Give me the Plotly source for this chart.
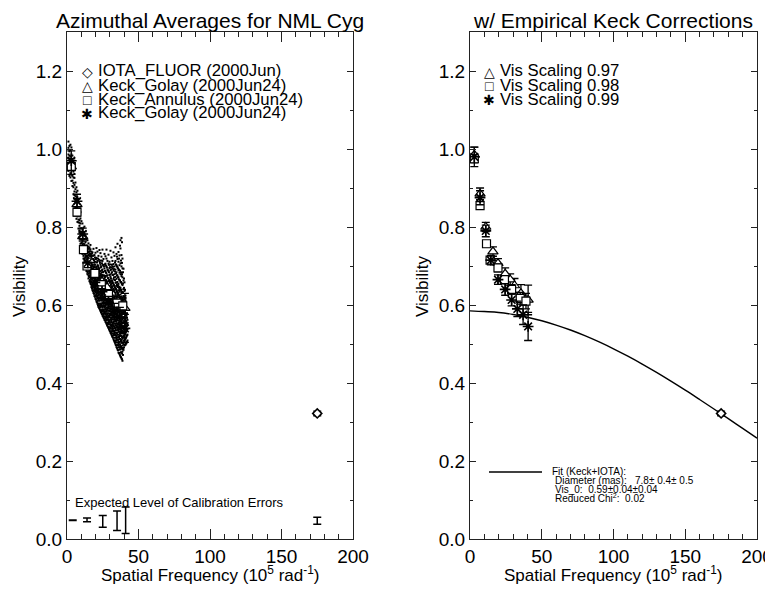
import plotly.graph_objects as go

W, H = 773, 590

# ---------------- data ----------------
# IOTA_FLUOR point
iota_x = [175.0]
iota_v = [0.322]
iota_err = [0.006]

# Keck_Golay (triangles) -- raw (left) and scaled 0.97 (right)
tri_x = [3, 7, 11, 16, 19.5, 24.5, 28, 31, 35.5, 40.5]
tri_v_raw = [0.955, 0.858, 0.776, 0.715, 0.686, 0.660, 0.645, 0.631, 0.611, 0.592]
tri_v_cor = [0.985, 0.885, 0.800, 0.737, 0.707, 0.680, 0.665, 0.650, 0.630, 0.613]
tri_err = [0.02, 0.015, 0.012, 0.012, 0.012, 0.015, 0.015, 0.018, 0.022, 0.038]

# Keck_Annulus (squares) -- raw and scaled 0.98
sq_x = [3, 7, 11.5, 14, 19.5, 24, 29, 35, 39]
sq_v_raw = [0.955, 0.838, 0.742, 0.700, 0.681, 0.652, 0.627, 0.605, 0.598]
sq_v_cor = [0.975, 0.855, 0.757, 0.715, 0.695, 0.665, 0.640, 0.617, 0.610]
sq_err = [0.01, 0.01, 0.008, 0.008, 0.01, 0.01, 0.012, 0.015, 0.02]

# Keck_Golay second set (asterisks) -- raw and scaled 0.99
ast_x = [3, 7, 11, 14.5, 19.5, 24.5, 29, 33, 37, 40.5]
ast_v_raw = [0.970, 0.866, 0.782, 0.708, 0.658, 0.634, 0.607, 0.584, 0.569, 0.540]
ast_v_cor = [0.980, 0.875, 0.790, 0.715, 0.665, 0.640, 0.613, 0.590, 0.575, 0.545]
ast_err = [0.025, 0.018, 0.015, 0.012, 0.012, 0.015, 0.015, 0.02, 0.025, 0.036]

# Expected calibration error bars
cal_x = [4, 14, 25, 35, 41, 175]
cal_v = [0.048, 0.049, 0.045, 0.047, 0.048, 0.047]
cal_err = [0.0005, 0.005, 0.015, 0.025, 0.034, 0.009]

# Fit curve (Keck+IOTA)
fit_x = [0, 10, 20, 30, 40, 50, 60, 70, 80, 90, 100, 110, 120, 130, 140, 150,
         160, 170, 180, 190, 200]
fit_v = [0.585, 0.5832, 0.5809, 0.5758, 0.5687, 0.5596, 0.5486, 0.5359, 0.5214,
         0.5053, 0.4877, 0.4687, 0.4485, 0.4271, 0.4047, 0.3816, 0.3577, 0.3333,
         0.3086, 0.2836, 0.2586]

# Raw Keck visibilities (dot cloud), one column of values per frequency
cloud_x = [1.0, 1.7, 2.4, 3.1, 3.8, 4.5, 5.2, 5.9, 6.6, 7.3, 8.0, 8.7, 9.4, 10.1,
           10.8, 11.5, 12.2, 12.9, 13.6, 14.3, 15.0, 15.7, 16.4, 17.1, 17.8, 18.5,
           19.2, 19.9, 20.6, 21.3, 22.0, 22.7, 23.4, 24.1, 24.8, 25.5, 26.2, 26.9,
           27.6, 28.3, 29.0, 29.7, 30.4, 31.1, 31.8, 32.5, 33.2, 33.9, 34.6, 35.3,
           36.0, 36.7, 37.4, 38.1, 38.8, 39.5, 40.2, 40.9, 41.6, 42.3]
cloud_v = [
    [0.944, 0.962, 0.977, 0.986, 1.003, 1.019],
    [0.931, 0.955, 0.961, 0.972, 0.994, 1.008, 0.983],
    [0.927, 0.949, 0.938, 0.966, 0.981, 0.958, 0.997, 1.011],
    [0.918, 0.934, 0.957, 0.945, 0.969, 0.986, 0.975, 1.004],
    [0.905, 0.931, 0.919, 0.948, 0.962, 0.954, 0.983],
    [0.884, 0.902, 0.927, 0.913, 0.942, 0.958, 0.969],
    [0.857, 0.873, 0.891, 0.882, 0.908, 0.926, 0.936],
    [0.829, 0.851, 0.842, 0.866, 0.879, 0.871, 0.897, 0.914],
    [0.821, 0.836, 0.849, 0.858, 0.844, 0.873, 0.889, 0.902],
    [0.813, 0.827, 0.852, 0.839, 0.864, 0.876, 0.858, 0.893],
    [0.796, 0.812, 0.828, 0.819, 0.841, 0.857, 0.846, 0.872],
    [0.774, 0.791, 0.803, 0.786, 0.818, 0.829, 0.811, 0.847],
    [0.757, 0.769, 0.783, 0.796, 0.776, 0.809, 0.822, 0.838],
    [0.742, 0.759, 0.751, 0.768, 0.784, 0.776, 0.797, 0.815],
    [0.731, 0.744, 0.756, 0.739, 0.767, 0.781, 0.762, 0.793, 0.809],
    [0.719, 0.733, 0.726, 0.745, 0.757, 0.771, 0.749, 0.783, 0.798],
    [0.708, 0.719, 0.731, 0.714, 0.743, 0.736, 0.756, 0.769, 0.782, 0.801],
    [0.697, 0.711, 0.704, 0.723, 0.734, 0.728, 0.749, 0.761, 0.778],
    [0.687, 0.699, 0.711, 0.694, 0.724, 0.717, 0.738, 0.753, 0.744, 0.769],
    [0.679, 0.683, 0.697, 0.701, 0.709, 0.724, 0.727, 0.741, 0.752, 0.766],
    [0.668, 0.676, 0.692, 0.694, 0.712, 0.718, 0.721, 0.737, 0.758],
    [0.661, 0.671, 0.675, 0.688, 0.703, 0.706, 0.719, 0.733, 0.748],
    [0.655, 0.659, 0.677, 0.684, 0.689, 0.708, 0.714, 0.729, 0.743, 0.754],
    [0.646, 0.661, 0.665, 0.682, 0.696, 0.699, 0.711, 0.724, 0.737],
    [0.638, 0.642, 0.657, 0.671, 0.674, 0.688, 0.703, 0.717, 0.735],
    [0.631, 0.645, 0.651, 0.659, 0.672, 0.686, 0.691, 0.699, 0.718, 0.744],
    [0.623, 0.629, 0.644, 0.658, 0.661, 0.677, 0.683, 0.704, 0.709, 0.728],
    [0.616, 0.633, 0.637, 0.645, 0.663, 0.669, 0.687, 0.693, 0.711, 0.734],
    [0.609, 0.614, 0.628, 0.641, 0.655, 0.659, 0.675, 0.689, 0.698, 0.721, 0.746],
    [0.603, 0.618, 0.623, 0.636, 0.649, 0.667, 0.671, 0.683, 0.702, 0.713, 0.737],
    [0.595, 0.601, 0.615, 0.631, 0.638, 0.642, 0.659, 0.678, 0.681, 0.697, 0.726],
    [0.591, 0.598, 0.611, 0.619, 0.634, 0.651, 0.656, 0.664, 0.686, 0.694, 0.712, 0.741],
    [0.585, 0.594, 0.602, 0.622, 0.625, 0.643, 0.647, 0.666, 0.675, 0.679, 0.703, 0.733],
    [0.579, 0.583, 0.601, 0.613, 0.618, 0.637, 0.644, 0.655, 0.661, 0.684, 0.699, 0.724],
    [0.573, 0.589, 0.594, 0.605, 0.615, 0.627, 0.639, 0.652, 0.657, 0.677, 0.691, 0.713, 0.742],
    [0.568, 0.575, 0.586, 0.603, 0.608, 0.621, 0.629, 0.648, 0.651, 0.664, 0.685, 0.702, 0.718],
    [0.562, 0.579, 0.582, 0.594, 0.611, 0.617, 0.624, 0.643, 0.649, 0.668, 0.673, 0.694, 0.731],
    [0.557, 0.566, 0.577, 0.591, 0.599, 0.606, 0.626, 0.632, 0.641, 0.659, 0.672, 0.687, 0.706, 0.725],
    [0.552, 0.561, 0.574, 0.583, 0.601, 0.608, 0.615, 0.633, 0.638, 0.656, 0.662, 0.681, 0.699, 0.719, 0.742],
    [0.546, 0.552, 0.568, 0.576, 0.589, 0.603, 0.611, 0.619, 0.637, 0.646, 0.654, 0.676, 0.691, 0.713],
    [0.541, 0.557, 0.562, 0.573, 0.592, 0.597, 0.605, 0.621, 0.633, 0.639, 0.661, 0.668, 0.687, 0.706, 0.729],
    [0.535, 0.543, 0.556, 0.571, 0.578, 0.586, 0.603, 0.611, 0.628, 0.636, 0.649, 0.664, 0.677, 0.695, 0.711],
    [0.529, 0.547, 0.551, 0.562, 0.579, 0.588, 0.596, 0.608, 0.624, 0.629, 0.643, 0.661, 0.672, 0.689, 0.704, 0.739],
    [0.524, 0.531, 0.544, 0.559, 0.567, 0.583, 0.589, 0.601, 0.616, 0.627, 0.634, 0.656, 0.663, 0.681, 0.697, 0.722],
    [0.518, 0.536, 0.541, 0.549, 0.569, 0.574, 0.592, 0.597, 0.611, 0.618, 0.638, 0.645, 0.659, 0.677, 0.693, 0.713],
    [0.512, 0.522, 0.533, 0.548, 0.556, 0.571, 0.579, 0.588, 0.606, 0.613, 0.627, 0.641, 0.652, 0.667, 0.688, 0.705, 0.735],
    [0.506, 0.527, 0.531, 0.541, 0.558, 0.564, 0.582, 0.587, 0.598, 0.617, 0.622, 0.638, 0.649, 0.664, 0.679, 0.699, 0.726],
    [0.499, 0.508, 0.523, 0.538, 0.547, 0.559, 0.569, 0.577, 0.594, 0.603, 0.611, 0.631, 0.642, 0.657, 0.672, 0.691, 0.713, 0.748],
    [0.492, 0.513, 0.519, 0.528, 0.547, 0.553, 0.566, 0.574, 0.587, 0.601, 0.609, 0.622, 0.638, 0.649, 0.667, 0.684, 0.702, 0.731],
    [0.486, 0.497, 0.511, 0.524, 0.538, 0.544, 0.561, 0.569, 0.581, 0.593, 0.604, 0.618, 0.629, 0.646, 0.659, 0.676, 0.697, 0.718, 0.757],
    [0.478, 0.501, 0.507, 0.517, 0.533, 0.541, 0.552, 0.566, 0.573, 0.589, 0.597, 0.612, 0.626, 0.638, 0.654, 0.671, 0.689, 0.711, 0.736],
    [0.474, 0.486, 0.498, 0.513, 0.522, 0.537, 0.548, 0.557, 0.571, 0.582, 0.594, 0.607, 0.617, 0.636, 0.647, 0.664, 0.683, 0.702, 0.727],
    [0.468, 0.491, 0.495, 0.506, 0.521, 0.529, 0.543, 0.553, 0.564, 0.578, 0.586, 0.603, 0.614, 0.627, 0.644, 0.659, 0.679, 0.707, 0.745, 0.766],
    [0.463, 0.476, 0.488, 0.503, 0.511, 0.527, 0.536, 0.549, 0.561, 0.571, 0.584, 0.596, 0.611, 0.622, 0.639, 0.656, 0.674, 0.699, 0.728, 0.772],
    [0.457, 0.481, 0.487, 0.496, 0.514, 0.519, 0.534, 0.543, 0.556, 0.568, 0.577, 0.592, 0.604, 0.619, 0.633, 0.651, 0.671, 0.694, 0.719],
    [0.485, 0.499, 0.509, 0.522, 0.531, 0.546, 0.554, 0.566, 0.579, 0.592, 0.607, 0.623, 0.641, 0.663, 0.693],
    [0.496, 0.508, 0.523, 0.531, 0.546, 0.558, 0.567, 0.583, 0.598, 0.615, 0.636, 0.658],
    [0.498, 0.514, 0.527, 0.538, 0.551, 0.564, 0.578, 0.593, 0.612, 0.624],
    [0.502, 0.519, 0.533, 0.547, 0.556, 0.572, 0.589],
    [0.509, 0.524, 0.538, 0.549, 0.562],
]

# second interleaved set of raw Keck columns in the dense part of the cloud
cloud_x_b = [14.65, 15.35, 16.05, 16.75, 17.45, 18.15, 18.85, 19.55, 20.25, 20.95,
             21.65, 22.35, 23.05, 23.75, 24.45, 25.15, 25.85, 26.55, 27.25, 27.95,
             28.65, 29.35, 30.05, 30.75, 31.45, 32.15, 32.85, 33.55, 34.25, 34.95,
             35.65, 36.35, 37.05, 37.75, 38.45, 39.15, 39.85, 40.55, 41.25, 41.95]
cloud_v_b = [
    [0.686, 0.692, 0.705, 0.716, 0.719, 0.735, 0.749],
    [0.673, 0.681, 0.698, 0.709, 0.713, 0.729, 0.744],
    [0.664, 0.673, 0.685, 0.697, 0.702, 0.719, 0.738],
    [0.653, 0.668, 0.671, 0.689, 0.694, 0.706, 0.731],
    [0.643, 0.652, 0.668, 0.673, 0.687, 0.701, 0.716, 0.732],
    [0.636, 0.648, 0.654, 0.669, 0.681, 0.693, 0.712, 0.726],
    [0.629, 0.638, 0.652, 0.663, 0.668, 0.684, 0.697, 0.715],
    [0.621, 0.636, 0.641, 0.653, 0.666, 0.679, 0.691, 0.703, 0.722],
    [0.614, 0.625, 0.633, 0.649, 0.658, 0.665, 0.684, 0.695, 0.718],
    [0.607, 0.621, 0.629, 0.638, 0.653, 0.662, 0.678, 0.692, 0.709],
    [0.599, 0.611, 0.624, 0.632, 0.645, 0.656, 0.669, 0.687, 0.701, 0.719],
    [0.593, 0.604, 0.617, 0.627, 0.641, 0.649, 0.667, 0.674, 0.692, 0.716],
    [0.588, 0.599, 0.612, 0.619, 0.634, 0.648, 0.654, 0.671, 0.687, 0.708],
    [0.582, 0.596, 0.604, 0.616, 0.629, 0.639, 0.652, 0.667, 0.679, 0.697, 0.714],
    [0.577, 0.587, 0.598, 0.611, 0.624, 0.633, 0.646, 0.658, 0.673, 0.689, 0.707],
    [0.571, 0.583, 0.596, 0.604, 0.617, 0.631, 0.638, 0.655, 0.667, 0.684, 0.703],
    [0.566, 0.578, 0.588, 0.599, 0.613, 0.622, 0.636, 0.647, 0.662, 0.676, 0.699],
    [0.561, 0.571, 0.584, 0.596, 0.604, 0.618, 0.629, 0.644, 0.653, 0.671, 0.688, 0.704],
    [0.555, 0.567, 0.579, 0.588, 0.602, 0.612, 0.623, 0.636, 0.651, 0.664, 0.683, 0.701],
    [0.549, 0.562, 0.571, 0.585, 0.594, 0.607, 0.619, 0.631, 0.642, 0.658, 0.675, 0.696],
    [0.544, 0.554, 0.567, 0.579, 0.591, 0.601, 0.613, 0.626, 0.638, 0.652, 0.669, 0.689],
    [0.538, 0.551, 0.561, 0.572, 0.585, 0.597, 0.606, 0.619, 0.634, 0.645, 0.663, 0.684, 0.703],
    [0.533, 0.542, 0.556, 0.568, 0.577, 0.591, 0.602, 0.614, 0.626, 0.641, 0.657, 0.678, 0.697],
    [0.527, 0.539, 0.549, 0.563, 0.574, 0.584, 0.597, 0.609, 0.621, 0.635, 0.652, 0.668, 0.691],
    [0.521, 0.533, 0.546, 0.555, 0.568, 0.581, 0.591, 0.603, 0.617, 0.629, 0.646, 0.662, 0.684, 0.703],
    [0.516, 0.527, 0.539, 0.552, 0.563, 0.574, 0.586, 0.599, 0.611, 0.624, 0.639, 0.656, 0.677, 0.698],
    [0.509, 0.523, 0.534, 0.545, 0.558, 0.569, 0.581, 0.593, 0.605, 0.619, 0.633, 0.651, 0.671, 0.692],
    [0.503, 0.516, 0.529, 0.541, 0.552, 0.563, 0.576, 0.588, 0.601, 0.613, 0.628, 0.645, 0.664, 0.686, 0.709],
    [0.497, 0.509, 0.522, 0.535, 0.548, 0.558, 0.571, 0.583, 0.596, 0.608, 0.623, 0.641, 0.658, 0.681, 0.704],
    [0.490, 0.504, 0.517, 0.529, 0.542, 0.553, 0.565, 0.578, 0.590, 0.603, 0.619, 0.635, 0.653, 0.676, 0.699, 0.724],
    [0.484, 0.497, 0.511, 0.524, 0.536, 0.549, 0.560, 0.573, 0.585, 0.598, 0.613, 0.630, 0.649, 0.671, 0.694],
    [0.477, 0.492, 0.505, 0.518, 0.531, 0.543, 0.555, 0.568, 0.580, 0.594, 0.609, 0.625, 0.644, 0.666, 0.691, 0.719],
    [0.471, 0.486, 0.499, 0.513, 0.526, 0.538, 0.550, 0.563, 0.576, 0.589, 0.604, 0.621, 0.641, 0.663, 0.688, 0.752],
    [0.466, 0.479, 0.494, 0.508, 0.521, 0.533, 0.546, 0.558, 0.571, 0.585, 0.600, 0.617, 0.637, 0.659, 0.684, 0.714],
    [0.461, 0.476, 0.490, 0.504, 0.517, 0.529, 0.541, 0.554, 0.567, 0.581, 0.597, 0.614, 0.633, 0.654, 0.679, 0.708, 0.761],
    [0.472, 0.489, 0.503, 0.516, 0.528, 0.541, 0.553, 0.566, 0.580, 0.596, 0.613, 0.632, 0.655, 0.684],
    [0.491, 0.504, 0.518, 0.530, 0.543, 0.556, 0.569, 0.584, 0.601, 0.621, 0.644, 0.668],
    [0.498, 0.512, 0.526, 0.539, 0.553, 0.567, 0.582, 0.599, 0.619, 0.639],
    [0.501, 0.516, 0.531, 0.545, 0.559, 0.574, 0.591, 0.608],
    [0.506, 0.522, 0.537, 0.552, 0.567, 0.579],
]

legend_left = ["IOTA_FLUOR (2000Jun)", "Keck_Golay (2000Jun24)",
               "Keck_Annulus (2000Jun24)", "Keck_Golay (2000Jun24)"]
legend_left_sym = ["\u25C7", "\u25B3", "\u25A1", "\u2731"]
legend_right = ["Vis Scaling 0.97", "Vis Scaling 0.98", "Vis Scaling 0.99"]
legend_right_sym = ["\u25B3", "\u25A1", "\u2731"]
fit_text = ["Fit (Keck+IOTA):", "Diameter (mas):   7.8\u00b1 0.4\u00b1 0.5",
            "Vis_0:  0.59\u00b10.04\u00b10.04", "Reduced Chi<sup>2</sup>:  0.02"]

# ---------------- layout helpers ----------------
FONT = "Liberation Sans, Arial, Helvetica, sans-serif"
OFF = 8  # the page body margin shifts the figure by 8px right and down
def px(x):
    return (x - OFF) / W
def py(y):
    return 1 - (y - OFF) / H

L_DOM = [px(67), px(353)]
R_DOM = [px(470), px(757)]
Y_DOM = [py(539), py(32)]

fig = go.Figure()

flat_x, flat_v = [], []
for xs_, vs_ in ((cloud_x, cloud_v), (cloud_x_b, cloud_v_b)):
    for xc, col in zip(xs_, vs_):
        for v in col:
            flat_x.append(xc)
            flat_v.append(v)

fig.add_trace(go.Scatter(x=flat_x, y=flat_v, mode="markers", xaxis="x", yaxis="y",
                         marker=dict(symbol="square", size=2, color="black", line=dict(width=0)),
                         hoverinfo="skip", showlegend=False))

def eb(err, w=4):
    return dict(type="data", array=err, visible=True, color="black", thickness=1.3, width=w)

def add_series(xs, vs, errs, symbol, xa, ya, size=9, lw=1.2):
    fill = "white" if "asterisk" not in symbol else "black"
    fig.add_trace(go.Scatter(x=xs, y=vs, mode="markers", xaxis=xa, yaxis=ya,
                             error_y=eb(errs),
                             marker=dict(symbol=symbol, size=size, color=fill,
                                         line=dict(color="black", width=lw)),
                             showlegend=False))

# left panel
add_series(tri_x, tri_v_raw, tri_err, "triangle-up", "x", "y", size=9)
add_series(sq_x, sq_v_raw, sq_err, "square", "x", "y", size=8)
add_series(ast_x, ast_v_raw, ast_err, "asterisk-open", "x", "y", size=9, lw=1.6)
add_series(iota_x, iota_v, iota_err, "diamond", "x", "y", size=7, lw=1.6)
fig.add_trace(go.Scatter(x=cal_x, y=cal_v, mode="markers", xaxis="x", yaxis="y",
                         marker=dict(size=1, color="rgba(0,0,0,0)"),
                         error_y=dict(type="data", array=cal_err, visible=True,
                                      color="black", thickness=1.5, width=4),
                         showlegend=False))

# right panel
fig.add_trace(go.Scatter(x=fit_x, y=fit_v, mode="lines", xaxis="x2", yaxis="y2",
                         line=dict(color="black", width=1.4, shape="spline"),
                         showlegend=False))
add_series(tri_x, tri_v_cor, tri_err, "triangle-up", "x2", "y2", size=9)
add_series(sq_x, sq_v_cor, sq_err, "square", "x2", "y2", size=8)
add_series(ast_x, ast_v_cor, ast_err, "asterisk-open", "x2", "y2", size=9, lw=1.6)
add_series(iota_x, iota_v, iota_err, "diamond", "x2", "y2", size=7, lw=1.6)

AX = dict(color="black", linecolor="#222", linewidth=1.2, showgrid=False, zeroline=False,
          mirror="allticks", showline=True, ticks="inside", tickcolor="#222",
          automargin=False,
          tickfont=dict(family=FONT, size=19, color="black"))
xax = dict(AX, range=[0, 200], tickvals=[0, 50, 100, 150, 200], ticklen=10, tickwidth=1.2,
           minor=dict(dtick=10, ticklen=5, ticks="inside", tickcolor="#222", tickwidth=1),
           ticklabelstandoff=0)
yax = dict(AX, range=[0, 1.3], tickvals=[0, 0.2, 0.4, 0.6, 0.8, 1.0, 1.2],
           ticktext=["0.0", "0.2", "0.4", "0.6", "0.8", "1.0", "1.2"], ticklen=6,
           tickwidth=1.2,
           minor=dict(tickvals=[i * 0.1 for i in range(14)], ticklen=3, ticks="inside",
                      tickcolor="#222", tickwidth=1),
           ticklabelstandoff=0)

fig.update_layout(
    width=W, height=H, margin=dict(l=0, r=0, t=0, b=0, autoexpand=False),
    paper_bgcolor="white", plot_bgcolor="white",
    font=dict(family=FONT, color="black"),
    xaxis=dict(xax, domain=L_DOM, anchor="y"),
    yaxis=dict(yax, domain=Y_DOM, anchor="x"),
    xaxis2=dict(xax, domain=R_DOM, anchor="y2"),
    yaxis2=dict(yax, domain=Y_DOM, anchor="x2"),
)

ann = []
def text(x, y, s, size, xanchor="center", yanchor="middle", angle=0):
    ann.append(dict(x=x, y=y, xref="paper", yref="paper", text=s, showarrow=False,
                    xanchor=xanchor, yanchor=yanchor, textangle=angle,
                    font=dict(family=FONT, size=size, color="black"), borderpad=0))

# titles
text(px(210), py(21), "Azimuthal Averages for NML Cyg", 21)
text(px(613), py(21), "w/ Empirical Keck Corrections", 21)
# axis titles
xt = "Spatial Frequency (10<sup>5</sup> rad<sup>-1</sup>)"
text(px(210), py(574), xt, 17)
text(px(613), py(574), xt, 17)
text(px(19), py(286), "Visibility", 17, angle=-90)
text(px(422), py(286), "Visibility", 17, angle=-90)

# legends
rows = [71, 85, 99, 113]
for i, (s, lab) in enumerate(zip(legend_left_sym, legend_left)):
    text(px(87), py(rows[i] + 1), s, 14)
    text(px(97), py(rows[i]), lab, 16.7, xanchor="left")
for i, (s, lab) in enumerate(zip(legend_right_sym, legend_right)):
    text(px(489), py(rows[i] + 1), s, 14)
    text(px(499), py(rows[i]), lab, 16.7, xanchor="left")

# calibration label
text(px(74), py(502), "Expected Level of Calibration Errors", 13, xanchor="left")

# fit legend
fit_rows = [471, 480, 489, 498]
fit_left = [551, 554, 554, 554]
for i, s in enumerate(fit_text):
    text(px(fit_left[i]), py(fit_rows[i]), s, 10, xanchor="left")

fig.update_layout(annotations=ann,
                  shapes=[dict(type="line", xref="paper", yref="paper",
                               x0=px(489), x1=px(542), y0=py(472), y1=py(472),
                               line=dict(color="black", width=1.3))])

fig.write_html("out.html")
